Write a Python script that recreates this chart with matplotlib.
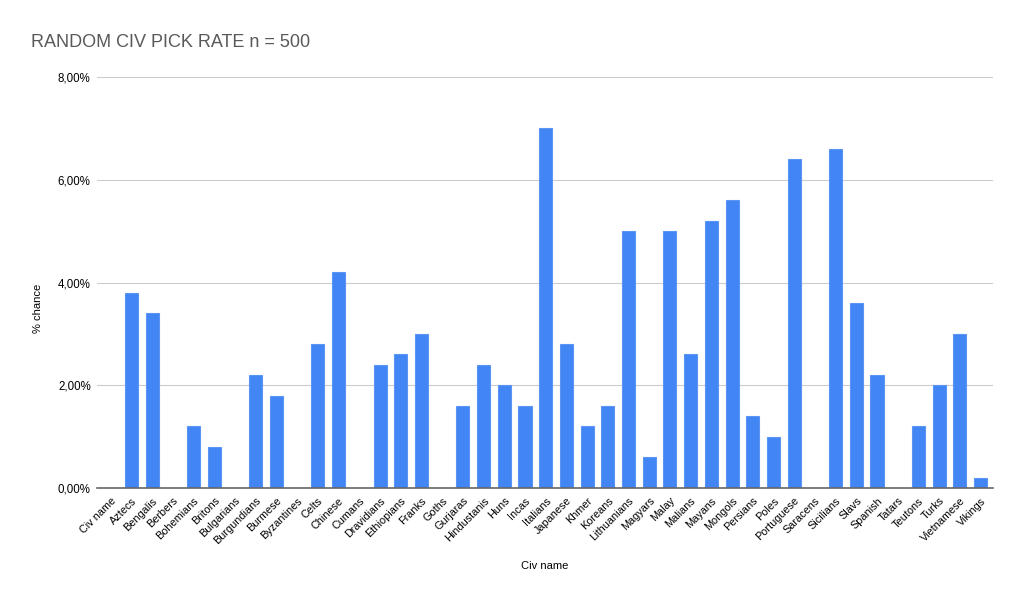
import numpy as np
import matplotlib
matplotlib.use("Agg")
import matplotlib.pyplot as plt
from matplotlib.ticker import FuncFormatter

plt.rcParams["font.family"] = ["Liberation Sans", "DejaVu Sans"]

CIVS = ["Civ name", "Aztecs", "Bengalis", "Berbers", "Bohemians", "Britons", "Bulgarians",
        "Burgundians", "Burmese", "Byzantines", "Celts", "Chinese", "Cumans", "Dravidians",
        "Ethiopians", "Franks", "Goths", "Gurjaras", "Hindustanis", "Huns", "Incas", "Italians",
        "Japanese", "Khmer", "Koreans", "Lithuanians", "Magyars", "Malay", "Malians", "Mayans",
        "Mongols", "Persians", "Poles", "Portuguese", "Saracens", "Sicilians", "Slavs",
        "Spanish", "Tatars", "Teutons", "Turks", "Vietnamese", "Vikings"]
PICK_RATE = [0.0, 3.8, 3.4, 0.0, 1.2, 0.8, 0.0,
             2.2, 1.8, 0.0, 2.8, 4.2, 0.0, 2.4,
             2.6, 3.0, 0.0, 1.6, 2.4, 2.0, 1.6, 7.0,
             2.8, 1.2, 1.6, 5.0, 0.6, 5.0, 2.6, 5.2,
             5.6, 1.4, 1.0, 6.4, 0.0, 6.6, 3.6,
             2.2, 0.0, 1.2, 2.0, 3.0, 0.2]
Y_TICKS = [0, 2, 4, 6, 8]

BLUE = "#4285f4"

fig = plt.figure(figsize=(10.24, 6.03), dpi=100)
ax = fig.add_axes([0.0947, 0.1907, 0.8750, 0.6816])

x = np.arange(len(CIVS))
ax.bar(x, PICK_RATE, width=0.63, color=BLUE, edgecolor="#5c96f5", linewidth=0.8, zorder=3)

ax.set_xlim(-0.67, len(CIVS) - 1 + 0.6)
ax.set_ylim(0, 8)
ax.set_yticks(Y_TICKS)
ax.yaxis.set_major_formatter(FuncFormatter(lambda v, _: f"{v:.2f}%".replace(".", ",")))
ax.set_xticks(x)
ax.set_xticklabels(CIVS, rotation=45, ha="right", rotation_mode="anchor", fontsize=7.8)
ax.tick_params(axis="y", labelsize=8.3, length=0, pad=4.5)
ax.tick_params(axis="x", length=0, pad=5.5)

ax.grid(axis="y", color="#cccccc", linewidth=0.8, zorder=0)
for side in ["top", "right", "left"]:
    ax.spines[side].set_visible(False)
ax.spines["bottom"].set_color("#666666")
ax.spines["bottom"].set_linewidth(1.2)
ax.spines["bottom"].set_zorder(4)

ax.set_xlabel("Civ name", fontsize=8)
ax.xaxis.set_label_coords(0.5, -0.178)
ax.set_ylabel("% chance", fontsize=8)
ax.yaxis.set_label_coords(-0.060, 0.438)

fig.text(0.030, 0.922, "RANDOM CIV PICK RATE n = 500", fontsize=13, color="#595959",
         ha="left", va="baseline")

fig.savefig("out.png", dpi=100)
